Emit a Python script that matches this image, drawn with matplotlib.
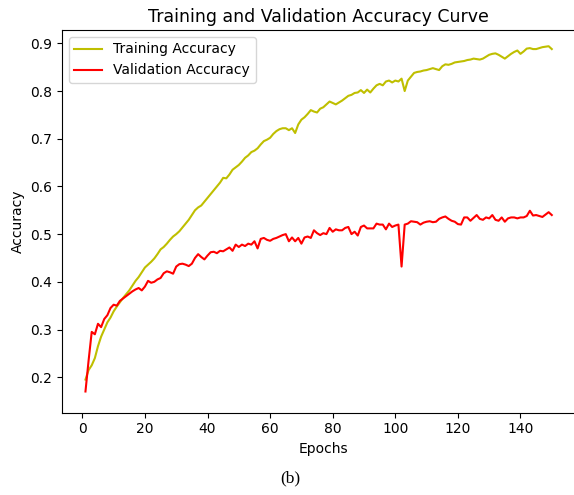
import matplotlib
matplotlib.use("Agg")
import matplotlib.pyplot as plt

# accuracy per epoch
train_acc = [
    0.195, 0.215, 0.225, 0.240, 0.265, 0.285, 0.300, 0.315, 0.325, 0.338,
    0.348, 0.357, 0.366, 0.374, 0.382, 0.392, 0.402, 0.410, 0.420, 0.430,
    0.436, 0.442, 0.449, 0.458, 0.468, 0.473, 0.480, 0.488, 0.495, 0.500,
    0.506, 0.514, 0.522, 0.530, 0.540, 0.550, 0.556, 0.560, 0.568, 0.576,
    0.584, 0.592, 0.600, 0.608, 0.618, 0.617, 0.625, 0.635, 0.640, 0.645,
    0.652, 0.660, 0.665, 0.672, 0.675, 0.680, 0.688, 0.695, 0.698, 0.702,
    0.710, 0.716, 0.720, 0.722, 0.722, 0.718, 0.722, 0.712, 0.730, 0.740,
    0.745, 0.752, 0.760, 0.757, 0.755, 0.763, 0.766, 0.772, 0.778, 0.775,
    0.772, 0.776, 0.780, 0.785, 0.790, 0.792, 0.796, 0.797, 0.802, 0.796,
    0.803, 0.797, 0.805, 0.812, 0.815, 0.812, 0.820, 0.822, 0.818, 0.822,
    0.820, 0.826, 0.800, 0.822, 0.830, 0.838, 0.840, 0.841, 0.843, 0.844,
    0.846, 0.848, 0.846, 0.844, 0.852, 0.856, 0.855, 0.857, 0.860, 0.861,
    0.862, 0.863, 0.865, 0.866, 0.868, 0.867, 0.866, 0.868, 0.872, 0.876,
    0.878, 0.879, 0.876, 0.872, 0.868, 0.873, 0.878, 0.882, 0.885, 0.878,
    0.883, 0.889, 0.890, 0.888, 0.888, 0.890, 0.892, 0.893, 0.894, 0.888,
]
val_acc = [
    0.170, 0.235, 0.295, 0.290, 0.312, 0.305, 0.322, 0.330, 0.345, 0.352,
    0.350, 0.360, 0.365, 0.370, 0.375, 0.380, 0.384, 0.387, 0.382, 0.390,
    0.402, 0.398, 0.400, 0.405, 0.408, 0.418, 0.422, 0.420, 0.417, 0.432,
    0.437, 0.438, 0.436, 0.433, 0.438, 0.450, 0.458, 0.452, 0.447, 0.455,
    0.462, 0.463, 0.460, 0.465, 0.464, 0.468, 0.472, 0.465, 0.478, 0.473,
    0.478, 0.475, 0.480, 0.478, 0.485, 0.470, 0.490, 0.492, 0.488, 0.486,
    0.490, 0.492, 0.495, 0.498, 0.500, 0.485, 0.493, 0.485, 0.492, 0.480,
    0.493, 0.495, 0.492, 0.508, 0.502, 0.498, 0.502, 0.500, 0.513, 0.505,
    0.510, 0.508, 0.508, 0.513, 0.515, 0.500, 0.505, 0.497, 0.515, 0.518,
    0.512, 0.512, 0.512, 0.522, 0.520, 0.520, 0.510, 0.522, 0.515, 0.518,
    0.520, 0.432, 0.520, 0.522, 0.527, 0.526, 0.525, 0.520, 0.524, 0.526,
    0.527, 0.525, 0.526, 0.532, 0.535, 0.537, 0.532, 0.528, 0.526, 0.521,
    0.520, 0.535, 0.535, 0.528, 0.534, 0.540, 0.532, 0.530, 0.535, 0.533,
    0.540, 0.530, 0.528, 0.535, 0.526, 0.533, 0.535, 0.535, 0.533, 0.535,
    0.535, 0.538, 0.549, 0.539, 0.540, 0.538, 0.536, 0.541, 0.546, 0.540,
]
epochs = list(range(1, len(train_acc) + 1))

fig = plt.figure(figsize=(5.74, 4.95), dpi=100)
# the original is cropped just past the right end of the axes
ax = fig.add_axes([0.108, 0.1663, 0.91, 0.7731])
ax.spines["right"].set_visible(False)

ax.plot(epochs, train_acc, color="y", label="Training Accuracy")
ax.plot(epochs, val_acc, color="r", label="Validation Accuracy")
ax.set_xlim(-6.5, 160.4)
ax.set_ylim(0.1256, 0.928)
ax.set_xticks([0, 20, 40, 60, 80, 100, 120, 140])
ax.set_title("Training and Validation Accuracy Curve", fontsize=12.5,
             x=0.49)
ax.set_xlabel("Epochs")
ax.set_ylabel("Accuracy")
ax.legend(loc="upper left")

# figure caption under the plot
fig.text(0.505, 0.033, "(b)", family="Liberation Serif", fontsize=12.5,
         ha="center", va="center")

fig.savefig("out.png")
